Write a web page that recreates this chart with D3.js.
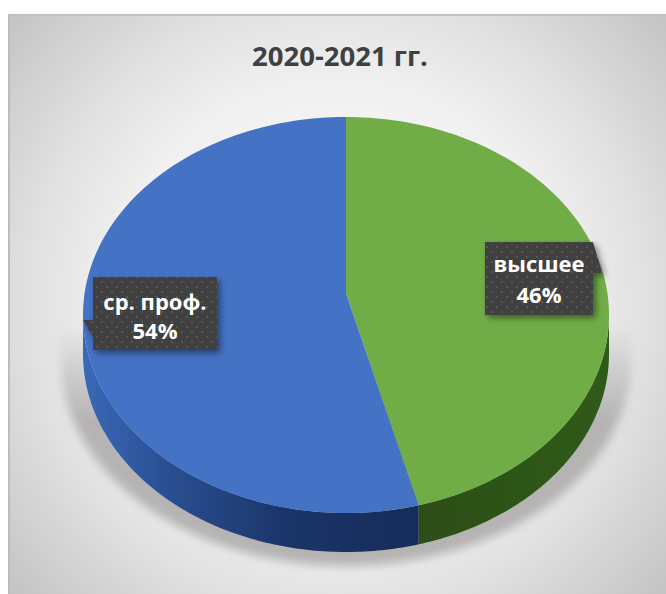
<!DOCTYPE html>
<html><head><meta charset="utf-8">
<script src="https://cdn.jsdelivr.net/npm/d3@7/dist/d3.min.js"></script>
<style>html,body{margin:0;padding:0;background:#fff;overflow:hidden}svg{display:block}text{font-family:"Open Sans",sans-serif;font-weight:700}</style>
</head><body><script>
const title = "2020-2021 гг.";
const categories = ["высшее", "ср. проф."];
const values = [46, 54];
const faceColors = ["#70ad47", "#4472c4"];

const W = 666, H = 594;
const svg = d3.select("body").append("svg").attr("width", W).attr("height", H);
const defs = svg.append("defs");

function grad(el, stops){ stops.forEach(s => el.append("stop").attr("offset", s[0]).attr("stop-color", s[1]).attr("stop-opacity", s[2] === undefined ? 1 : s[2])); return el; }
grad(defs.append("radialGradient").attr("id","bg").attr("gradientUnits","userSpaceOnUse").attr("cx",338).attr("cy",304).attr("r",445),
 [[0,"#ffffff"],[0.5,"#f0f0f0"],[0.67,"#e3e3e3"],[0.8,"#d6d6d6"],[1,"#c2c2c2"]]);
grad(defs.append("linearGradient").attr("id","sideBlue").attr("gradientUnits","userSpaceOnUse").attr("x1",83).attr("x2",416).attr("y1",0).attr("y2",0),
 [[0,"#3a69b8"],[0.25,"#2a4f92"],[0.6,"#1b356a"],[1,"#162c5a"]]);
grad(defs.append("linearGradient").attr("id","sideGreen").attr("gradientUnits","userSpaceOnUse").attr("x1",416).attr("x2",609).attr("y1",0).attr("y2",0),
 [[0,"#2e4d18"],[0.5,"#2d5517"],[1,"#305a18"]]);
grad(defs.append("linearGradient").attr("id","shadowFade").attr("gradientUnits","userSpaceOnUse").attr("x1",0).attr("x2",0).attr("y1",325).attr("y2",420),
 [[0,"#b6b3b3",0],[1,"#b6b3b3",1]]);
defs.append("filter").attr("id","blur").attr("x","-10%").attr("y","-10%").attr("width","120%").attr("height","120%")
  .append("feGaussianBlur").attr("stdDeviation",5);
const ds = defs.append("filter").attr("id","boxShadow").attr("x","-15%").attr("y","-15%").attr("width","135%").attr("height","135%");
ds.append("feDropShadow").attr("dx",3).attr("dy",3).attr("stdDeviation",3).attr("flood-color","#000").attr("flood-opacity",0.45);
const pat = defs.append("pattern").attr("id","dots").attr("patternUnits","userSpaceOnUse").attr("width",10).attr("height",10);
pat.append("rect").attr("width",10).attr("height",10).attr("fill","#404040");
pat.append("rect").attr("x",1).attr("y",1).attr("width",2).attr("height",2).attr("fill","#565656");
pat.append("rect").attr("x",6).attr("y",6).attr("width",2).attr("height",2).attr("fill","#565656");

// panel
svg.append("rect").attr("x",8).attr("y",14).attr("width",W-8).attr("height",H-14).attr("fill","url(#bg)");
svg.append("rect").attr("x",8).attr("y",14).attr("width",W-8).attr("height",2).attr("fill","#c0c0c0");
svg.append("rect").attr("x",8).attr("y",14).attr("width",2).attr("height",H-14).attr("fill","#bcbcbc");

// perspective-projected pie
const cx = 346, cy = 315, rx = 263, ry = 198, depth = 39, k = 0.108;
const X = d3.scaleLinear().domain([-1,1]).range([cx-rx, cx+rx]);
const Y = d3.scaleLinear().domain([-1,1]).range([cy+ry, cy-ry]);
const norm = 1/Math.sqrt(1-k*k), yOff = k/(1-k*k), yNorm = 1/(1-k*k);
const px = t => X(Math.sin(t)/(1+k*Math.cos(t))/norm);
const py = t => Y((Math.cos(t)/(1+k*Math.cos(t))+yOff)/yNorm);
const steps = (a,b) => d3.range(0,121).map(i => a+(b-a)*i/120);
const line = d3.line();
const pie = d3.pie().sort(null).value(d => d)(values);
const t0 = Math.acos(-k), t1 = 2*Math.PI - t0;

// shadow
const sc = 1.085;
const front = steps(t0,t1);
const shadowPts = front.map(t => [cx+(px(t)-cx)*sc, py(t)+depth+(py(t)-cy)*0.04+6]);
const shadowTop = cy+10;
shadowPts.unshift([shadowPts[0][0], shadowTop]);
shadowPts.push([shadowPts[shadowPts.length-1][0], shadowTop]);
svg.append("path").attr("d", line(shadowPts)+"Z").attr("fill","url(#shadowFade)").attr("filter","url(#blur)");

// sides
pie.forEach((s,i) => {
  const a = Math.max(s.startAngle,t0), b = Math.min(s.endAngle,t1);
  const arc = steps(a,b);
  const pts = arc.map(t => [px(t),py(t)]).concat(arc.slice().reverse().map(t => [px(t),py(t)+depth]));
  svg.append("path").attr("d", line(pts)+"Z").attr("fill", i===0 ? "url(#sideGreen)" : "url(#sideBlue)");
});

// faces
pie.forEach((s,i) => {
  const pts = [[X(0),Y(yOff/yNorm)]].concat(steps(s.startAngle,s.endAngle).map(t => [px(t),py(t)]));
  svg.append("path").attr("d", line(pts)+"Z").attr("fill", faceColors[i]);
});

// title
svg.append("text").attr("x",340).attr("y",66).attr("text-anchor","middle").attr("font-size",27.5).attr("fill","#404040").text(title);

// callout labels
const labels = [
  {i:0, path:"M485,242H593L602,273H593V315H485Z", tx:539, y1:272, y2:303},
  {i:1, path:"M93,277H217V350H93V337L83,320H93Z", tx:155, y1:310, y2:339}
];
labels.forEach(l => {
  svg.append("path").attr("d",l.path).attr("fill","url(#dots)").attr("filter","url(#boxShadow)");
  svg.append("text").attr("x",l.tx).attr("y",l.y1).attr("text-anchor","middle").attr("font-size",22).attr("fill","#fff").text(categories[l.i]);
  svg.append("text").attr("x",l.tx).attr("y",l.y2).attr("text-anchor","middle").attr("font-size",22).attr("fill","#fff").text(values[l.i]+"%");
});
</script></body></html>
